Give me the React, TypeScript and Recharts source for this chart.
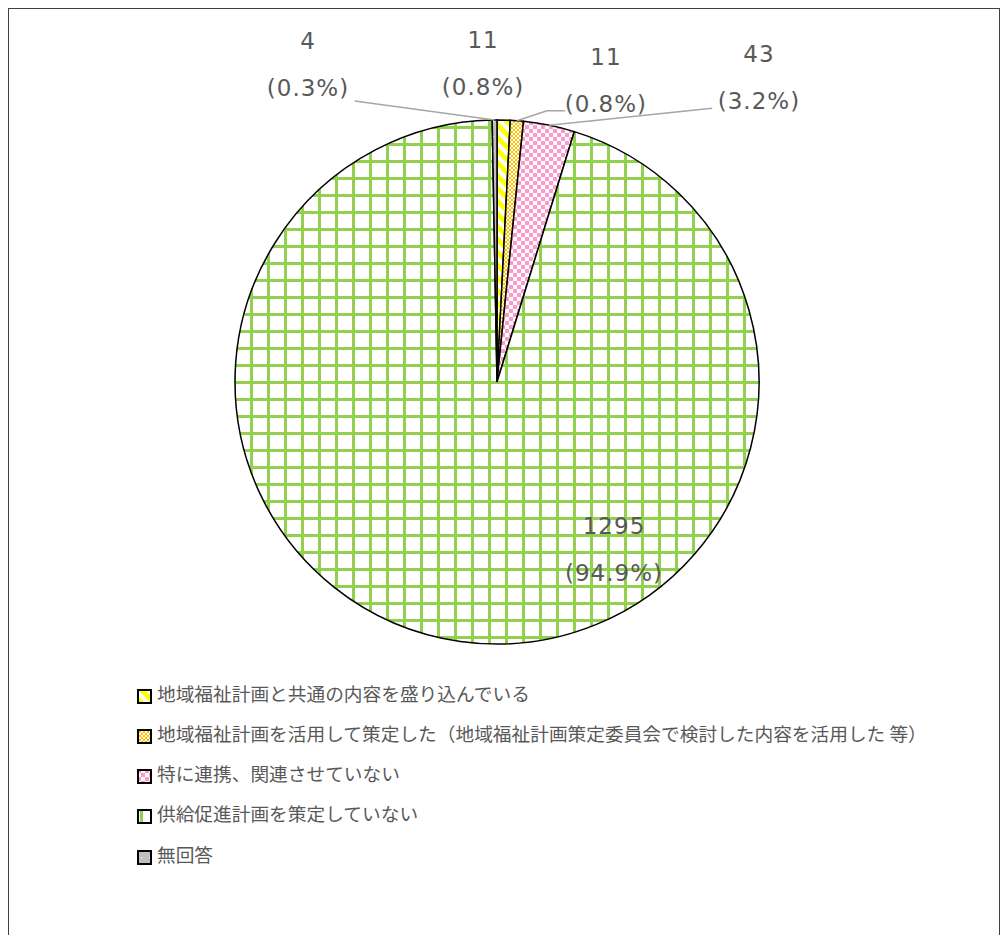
import React from 'react';
import { PieChart, Pie, Cell } from 'recharts';

const CATEGORIES = [
  '地域福祉計画と共通の内容を盛り込んでいる',
  '地域福祉計画を活用して策定した（地域福祉計画策定委員会で検討した内容を活用した 等）',
  '特に連携、関連させていない',
  '供給促進計画を策定していない',
  '無回答',
];
const VALUES = [11, 11, 43, 1295, 4];

const FILLS = ['url(#pYellow)', 'url(#pOrange)', 'url(#pPink)', 'url(#pGreen)', 'url(#pGray)'];
// label block centre, relative to the slice's outer mid-point
const LABEL_OFFSET: number[][] = [
  [-20.6, -56.6],
  [89, -40.6],
  [209.8, -47.8],
  [153.7, -92.4],
  [-186.6, -56.5],
];
// leader line points, relative to the slice's outer mid-point
const LEADER: (number[][] | null)[] = [null, [[30, -10], [48, -10]], [[163, -17]], null, [[-140, -19]]];

const TOTAL = VALUES.reduce((a, b) => a + b, 0);
const data = CATEGORIES.map((name, i) => ({ name, value: VALUES[i] }));

const LABEL_FONT = 'DejaVu Sans, Verdana, sans-serif';
const TEXT_COLOR = '#595959';

const renderLabel = (props: any) => {
  const { cx, cy, midAngle, outerRadius, index } = props;
  const RAD = Math.PI / 180;
  const ax = cx + outerRadius * Math.cos(-midAngle * RAD);
  const ay = cy + outerRadius * Math.sin(-midAngle * RAD);
  const [dx, dy] = LABEL_OFFSET[index];
  const lx = ax + dx;
  const ly = ay + dy;
  const v = VALUES[index];
  const pct = ((v / TOTAL) * 100).toFixed(1);
  const leader = LEADER[index];
  return (
    <g key={`lbl-${index}`}>
      {leader && (
        <polyline
          points={[[0, 0], ...leader].map(([px, py]) => `${ax + px},${ay + py}`).join(' ')}
          fill="none"
          stroke="#A6A6A6"
          strokeWidth={1.5}
        />
      )}
      <text x={lx} y={ly - 15} textAnchor="middle" fill={TEXT_COLOR} fontSize={23} fontFamily={LABEL_FONT} letterSpacing={1}>
        {v}
      </text>
      <text x={lx} y={ly + 32} textAnchor="middle" fill={TEXT_COLOR} fontSize={23} fontFamily={LABEL_FONT} letterSpacing={1}>
        {`(${pct}%)`}
      </text>
    </g>
  );
};

const Patterns = () => (
  <svg width={0} height={0} style={{ position: 'absolute' }}>
    <defs>
      <pattern id="pGreen" patternUnits="userSpaceOnUse" x={3} y={15} width={17} height={17}>
        <rect width={17} height={17} fill="#fff" />
        <rect x={0} y={0} width={3} height={17} fill="#92D050" />
        <rect x={0} y={0} width={17} height={3} fill="#92D050" />
      </pattern>
      <pattern id="pPink" patternUnits="userSpaceOnUse" width={8} height={8}>
        <rect width={8} height={8} fill="#fff" />
        <rect width={4} height={4} fill="#FF99CC" />
        <rect x={4} y={4} width={4} height={4} fill="#FF99CC" />
      </pattern>
      <pattern id="pYellow" patternUnits="userSpaceOnUse" width={9} height={9} patternTransform="rotate(-45)">
        <rect width={9} height={9} fill="#fff" />
        <rect width={5} height={9} fill="#FFFF00" />
      </pattern>
      <pattern id="pOrange" patternUnits="userSpaceOnUse" width={4} height={4}>
        <rect width={4} height={4} fill="#fff" />
        <rect width={2} height={2} fill="#FFC000" />
        <rect x={2} y={2} width={2} height={2} fill="#FFC000" />
      </pattern>
      <pattern id="pGray" patternUnits="userSpaceOnUse" width={8} height={15}>
        <rect width={8} height={15} fill="#BFBFBF" />
        <rect x={4} y={7} width={1.2} height={1.2} fill="#fff" />
      </pattern>
    </defs>
  </svg>
);

export default function App() {
  return (
    <div
      style={{
        position: 'relative',
        width: 990,
        height: 933,
        border: '1px solid #404040',
        background: '#fff',
        overflow: 'hidden',
      }}
    >
      <Patterns />
      <div style={{ position: 'absolute', left: 0, top: 0 }}>
        <PieChart width={990} height={933} margin={{ top: 0, right: 0, bottom: 0, left: 0 }}>
          <Pie
            data={data}
            dataKey="value"
            nameKey="name"
            cx={488}
            cy={373}
            outerRadius={262}
            startAngle={90}
            endAngle={-270}
            stroke="#000"
            strokeWidth={1.5}
            label={renderLabel}
            labelLine={false}
            isAnimationActive={false}
          >
            {data.map((d, i) => (
              <Cell key={d.name} fill={FILLS[i]} stroke="#000" strokeWidth={1.5} />
            ))}
          </Pie>
        </PieChart>
      </div>
      {CATEGORIES.map((name, i) => (
        <div
          key={name}
          style={{
            position: 'absolute',
            left: 128,
            top: 663 + i * 40.3,
            height: 40,
            display: 'flex',
            alignItems: 'center',
            whiteSpace: 'nowrap',
            fontFamily: '"Noto Sans CJK JP", sans-serif',
            fontSize: 18.7,
            color: TEXT_COLOR,
          }}
        >
          <svg width={15} height={15} style={{ position: 'relative', top: 4, marginRight: 5, flex: 'none' }}>
            <rect x={1} y={1} width={13} height={13} fill={FILLS[i]} stroke="#000" strokeWidth={2} />
          </svg>
          <span>{name}</span>
        </div>
      ))}
    </div>
  );
}
